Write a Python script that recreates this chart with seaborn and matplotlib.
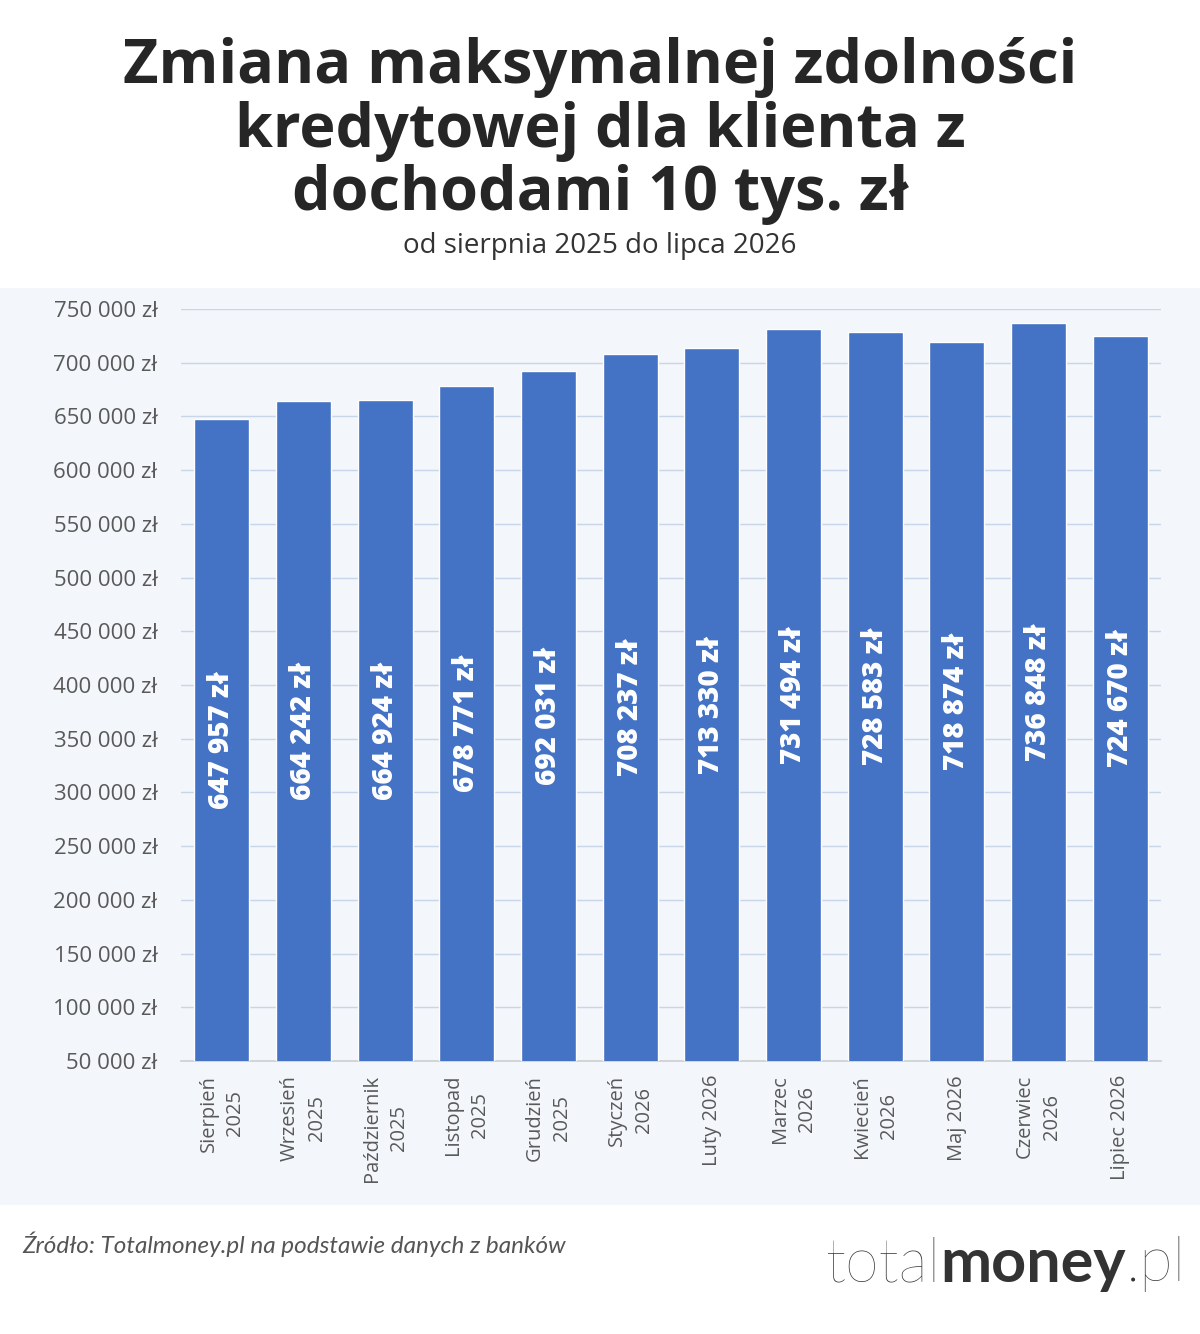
import matplotlib
matplotlib.use("Agg")
import matplotlib.pyplot as plt
import seaborn as sns
import pandas as pd
from matplotlib.patches import Rectangle
from matplotlib.ticker import FixedLocator

months = ["Sierpień\n2025", "Wrzesień\n2025", "Październik\n2025", "Listopad\n2025",
          "Grudzień\n2025", "Styczeń\n2026", "Luty 2026", "Marzec\n2026",
          "Kwiecień\n2026", "Maj 2026", "Czerwiec\n2026", "Lipiec 2026"]
values = [647957, 664242, 664924, 678771, 692031, 708237, 713330, 731494,
          728583, 718874, 736848, 724670]
y_ticks = list(range(50000, 750001, 50000))

title = "Zmiana maksymalnej zdolności\nkredytowej dla klienta z\ndochodami 10 tys. zł"
subtitle = "od sierpnia 2025 do lipca 2026"
source = "Źródło: Totalmoney.pl na podstawie danych z banków"

def fmt(v):
    return f"{v:,}".replace(",", " ") + " zł"

sns.set_theme(style="white")
plt.rcParams['font.family'] = ['Open Sans', 'DejaVu Sans']

BG = "#f3f6fb"
BAR = "#4472c4"
GRID = "#c9d6ea"
TXT = "#595959"

fig = plt.figure(figsize=(12, 13.34), dpi=100)
fig.patch.set_facecolor("white")

bg_ax = fig.add_axes([0, 1 - 1205/1334, 1, (1205-288)/1334], zorder=-10)
bg_ax.set_facecolor(BG)
bg_ax.set_axis_off()
bg_ax.add_patch(Rectangle((0, 0), 1, 1, transform=bg_ax.transAxes, facecolor=BG, edgecolor="none"))

ax = fig.add_axes([181/1200, 1 - 1061/1334, (1161-181)/1200, (1061-309)/1334], zorder=1)
ax.set_facecolor(BG)

df = pd.DataFrame({"month": months, "value": values})
sns.barplot(data=df, x="month", y="value", color=BAR, saturation=1, width=0.67, ax=ax, zorder=3)

ax.set_ylim(50000, 750000)
ax.set_xlim(-0.5, len(months) - 0.5)
ax.set_yticks(y_ticks)
ax.set_yticklabels([fmt(t) for t in y_ticks], fontsize=16, color=TXT)
ax.yaxis.grid(True, color=GRID, linewidth=1, zorder=0)
ax.set_axisbelow(True)
ax.tick_params(axis="y", length=0, pad=17)

ax.set_xticks(range(len(months)))
ax.set_xticklabels(months, rotation=90, fontsize=14.5, color=TXT, ha="center", va="top",
                   multialignment="center", linespacing=1.45)
ax.tick_params(axis="x", which="major", length=0, pad=10)
ax.xaxis.set_minor_locator(FixedLocator([i - 0.5 for i in range(len(months) + 1)]))
ax.tick_params(axis="x", which="minor", length=6, color="#c8c8c8", width=1)
ax.set_xlabel("")
ax.set_ylabel("")
for s in ["top", "right", "left"]:
    ax.spines[s].set_visible(False)
ax.spines["bottom"].set_color("#d0d0d0")

for p, v in zip(ax.patches, values):
    cx = p.get_x() + p.get_width() / 2
    cy = (50000 + v) / 2
    ax.text(cx, cy, fmt(v), rotation=90, ha="center", va="center", color="white",
            fontsize=20, fontweight="heavy", zorder=5)

fig.text(0.5, 1 - 131/1334, title, ha="center", va="center", fontsize=44,
         fontweight="bold", color="#262626", linespacing=1.05)
fig.text(0.5, 1 - 246/1334, subtitle, ha="center", va="center", fontsize=20, color="#333333")
fig.text(22/1200, 1 - 1244/1334, source, ha="left", va="center", fontsize=17.5,
         style="italic", color="#555555", family=["Lato", "DejaVu Sans"])

# logo
t1 = fig.text(825/1200, 1 - 1264/1334, "total", ha="left", va="center", fontsize=44,
              fontweight="light", color="#333333", family=["Lato", "DejaVu Sans"])
fig.canvas.draw()
r = fig.canvas.get_renderer()
bb = t1.get_window_extent(r)
t2 = fig.text(bb.x1 / 1200, 1 - 1264/1334, "money", ha="left", va="center", fontsize=44,
              fontweight="bold", color="#333333", family=["Lato", "DejaVu Sans"])
bb2 = t2.get_window_extent(r)
fig.text(bb2.x1 / 1200, 1 - 1264/1334, ".pl", ha="left", va="center", fontsize=44,
         fontweight="light", color="#333333", family=["Lato", "DejaVu Sans"])

fig.savefig("out.png", dpi=100, facecolor="white")
